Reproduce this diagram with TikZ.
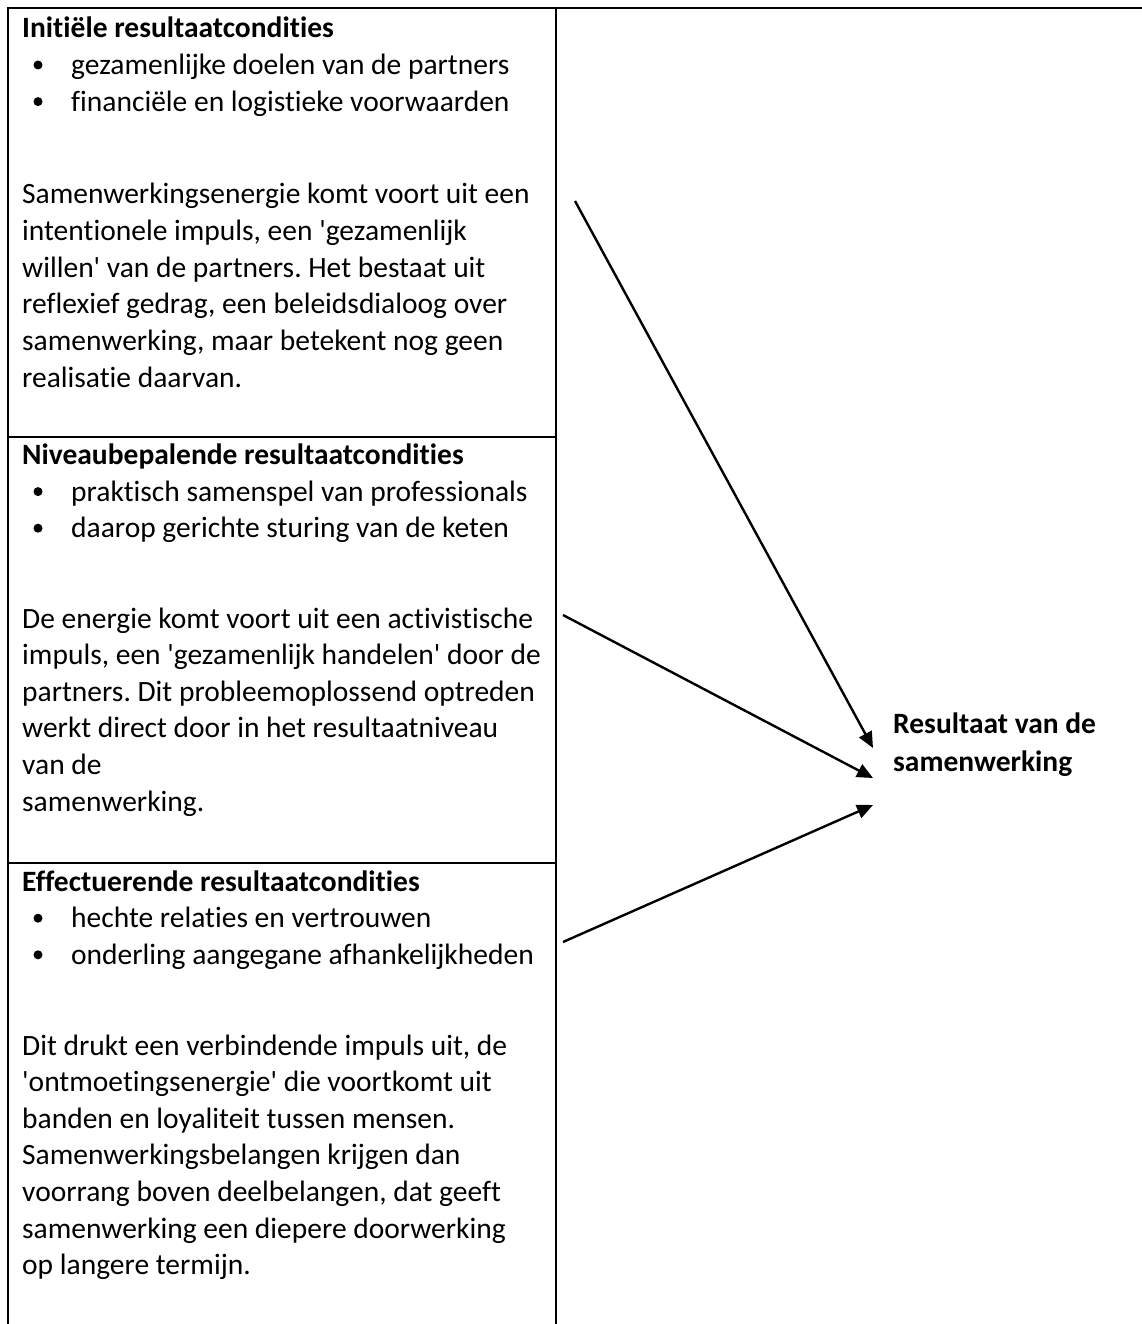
\documentclass[tikz,border=0pt]{standalone}
\usepackage{fontspec}
\setmainfont{Carlito}[Ligatures={TeXOff,NoCommon}]
\usetikzlibrary{arrows.meta}
\frenchspacing

\tikzset{
  frame/.style={line width=2.2pt, line cap=rect},
  rule/.style={line width=1.8pt},
  txt/.style={anchor=base west, inner sep=0pt, font=\fontsize{29.5}{36.6}\selectfont},
  hd/.style={txt, font=\fontsize{29.5}{36.6}\selectfont\bfseries},
  dot/.style={circle, fill=black, inner sep=0pt, minimum size=9pt},
  arr/.style={line width=2.4pt, -{Triangle[length=16pt,width=14pt]}},
}

\begin{document}
\begin{tikzpicture}[x=1pt,y=-1pt]
\useasboundingbox (0,0) rectangle (1141,1324);

% table frame: outer left edge, top edge and the column divider
\draw[frame] (8,1330) -- (8,8) -- (1145,8);
\draw[frame] (556,8) -- (556,1330);
\draw[rule] (8,437) -- (556,437);
\draw[rule] (8,863) -- (556,863);

% --- cell 1 ---
\node[hd] (h1) at (22,38) {Initiële resultaatcondities};
\node[dot] (d11) at (38,65) {};
\node[txt] (b11) at (71,74.6) {gezamenlijke doelen van de partners};
\node[dot] (d12) at (38,101.6) {};
\node[txt] (b12) at (71,111.2) {financiële en logistieke voorwaarden};
\foreach \t [count=\i] in {
  {Samenwerkingsenergie komt voort uit een},
  {intentionele impuls, een 'gezamenlijk},
  {willen' van de partners. Het bestaat uit},
  {reflexief gedrag, een beleidsdialoog over},
  {samenwerking, maar betekent nog geen},
  {realisatie daarvan.}}
  \node[txt] (p1l\i) at (22,{204+36.6*(\i-1)}) {\t};

% --- cell 2 ---
\node[hd] (h2) at (22,464) {Niveaubepalende resultaatcondities};
\node[dot] (d21) at (38,491.6) {};
\node[txt] (b21) at (71,501) {praktisch samenspel van professionals};
\node[dot] (d22) at (38,528.2) {};
\node[txt] (b22) at (71,537.6) {daarop gerichte sturing van de keten};
\foreach \t [count=\i] in {
  {De energie komt voort uit een activistische},
  {impuls, een 'gezamenlijk handelen' door de},
  {partners. Dit probleemoplossend optreden},
  {werkt direct door in het resultaatniveau},
  {van de},
  {samenwerking.}}
  \node[txt] (p2l\i) at (22,{628+36.6*(\i-1)}) {\t};

% --- cell 3 ---
\node[hd] (h3) at (22,891) {Effectuerende resultaatcondities};
\node[dot] (d31) at (38,918.2) {};
\node[txt] (b31) at (71,927.6) {hechte relaties en vertrouwen};
\node[dot] (d32) at (38,954.8) {};
\node[txt] (b32) at (71,964.2) {onderling aangegane afhankelijkheden};
\foreach \t [count=\i] in {
  {Dit drukt een verbindende impuls uit, de},
  {'ontmoetingsenergie' die voortkomt uit},
  {banden en loyaliteit tussen mensen.},
  {Samenwerkingsbelangen krijgen dan},
  {voorrang boven deelbelangen, dat geeft},
  {samenwerking een diepere doorwerking},
  {op langere termijn.}}
  \node[txt] (p3l\i) at (22,{1055+36.6*(\i-1)}) {\t};

% --- outcome ---
\node[hd] (res1) at (893,733) {Resultaat van de};
\node[hd] (res2) at (893,771) {samenwerking};

% arrows from the three condition cells to the outcome
\coordinate (s1) at (575,201);
\coordinate (s2) at (563,615);
\coordinate (s3) at (563,942);
\coordinate (t1) at (873,748);
\coordinate (t2) at (873,778);
\coordinate (t3) at (873,805);
\draw[arr] (s1) -- (t1);
\draw[arr] (s2) -- (t2);
\draw[arr] (s3) -- (t3);
\end{tikzpicture}
\end{document}
